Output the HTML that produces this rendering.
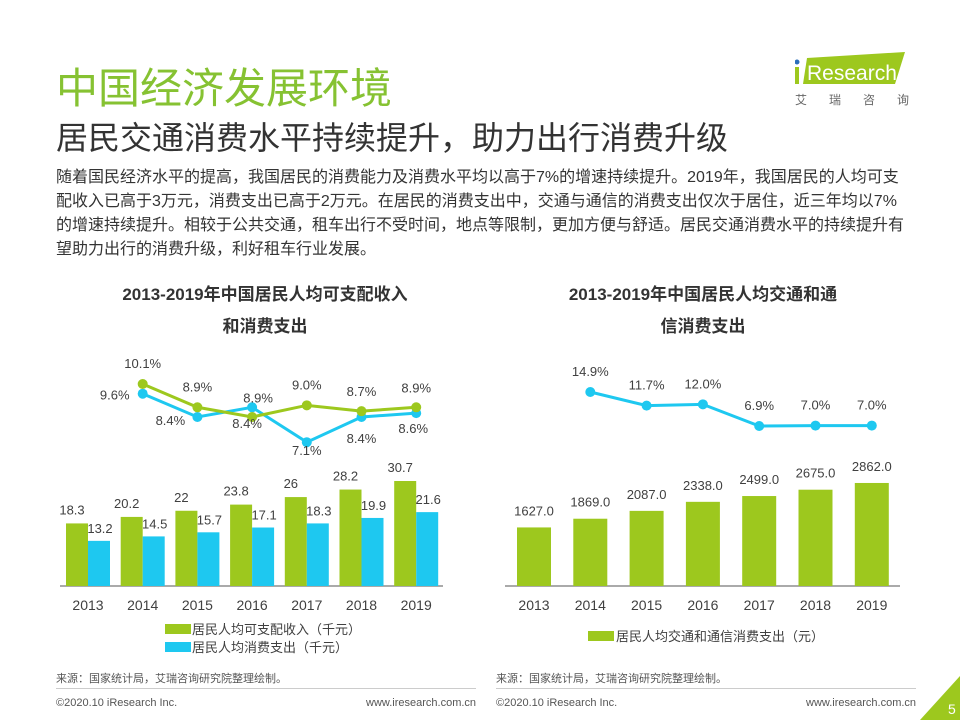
<!DOCTYPE html>
<html><head><meta charset="utf-8"><style>
body{margin:0;width:960px;height:720px;background:#fff;font-family:"Liberation Sans","Noto Sans CJK SC",sans-serif;position:relative;overflow:hidden;color:#404040}
.a{position:absolute;white-space:nowrap}
</style></head><body>
<div class="a" style="left:56px;top:55px;font-size:42px;color:#86c232">中国经济发展环境</div>
<div class="a" style="left:56px;top:113px;font-size:32px;color:#333">居民交通消费水平持续提升，助力出行消费升级</div>
<div class="a" style="left:795px;top:50px;width:112px;height:34px">
<svg width="120" height="60"><polygon points="12,8 110,2 100,34 8,34" fill="#9dc81e"/><circle cx="2" cy="12" r="2.5" fill="#2a6ebb"/><rect x="0" y="17" width="4" height="17" fill="#9dc81e"/>
<text x="12" y="30" font-size="21" fill="#fff" font-family="Liberation Sans">Research</text>
<text x="0" y="54" font-size="12" fill="#666" letter-spacing="22">艾瑞咨询</text></svg></div>
<div class="a" style="left:56px;top:166px;width:850px;white-space:normal;font-size:16px;line-height:24px;color:#333">随着国民经济水平的提高，我国居民的消费能力及消费水平均以高于7%的增速持续提升。2019年，我国居民的人均可支配收入已高于3万元，消费支出已高于2万元。在居民的消费支出中，交通与通信的消费支出仅次于居住，近三年均以7%的增速持续提升。相较于公共交通，租车出行不受时间，地点等限制，更加方便与舒适。居民交通消费水平的持续提升有望助力出行的消费升级，利好租车行业发展。</div>
<div class="a" style="left:60px;top:279px;width:410px;text-align:center;font-size:17px;font-weight:bold;line-height:32px;color:#333">2013-2019年中国居民人均可支配收入<br>和消费支出</div>
<div class="a" style="left:498px;top:279px;width:410px;text-align:center;font-size:17px;font-weight:bold;line-height:32px;color:#333">2013-2019年中国居民人均交通和通<br>信消费支出</div>
<svg id="c" class="a" style="left:0;top:0" width="960" height="720"></svg>
<div class="a" style="left:56px;top:670px;font-size:11px;color:#555">来源：国家统计局，艾瑞咨询研究院整理绘制。</div>
<div class="a" style="left:496px;top:670px;font-size:11px;color:#555">来源：国家统计局，艾瑞咨询研究院整理绘制。</div>
<div class="a" style="left:56px;top:688px;width:420px;border-top:1px solid #ccc"></div>
<div class="a" style="left:496px;top:688px;width:420px;border-top:1px solid #ccc"></div>
<div class="a" style="left:56px;top:697px;font-size:11px;color:#555">©2020.10 iResearch Inc.</div>
<div class="a" style="left:366px;top:697px;font-size:11px;color:#555">www.iresearch.com.cn</div>
<div class="a" style="left:496px;top:697px;font-size:11px;color:#555">©2020.10 iResearch Inc.</div>
<div class="a" style="left:806px;top:697px;font-size:11px;color:#555">www.iresearch.com.cn</div>
<svg class="a" style="left:920px;top:676px" width="40" height="44"><polygon points="40,0 40,44 0,44" fill="#9dc81e"/><text x="28" y="38" font-size="14" fill="#fff">5</text></svg>
<script>
const years=['2013','2014','2015','2016','2017','2018','2019'];
const income=[18.3,20.2,22,23.8,26,28.2,30.7];
const incomeLbl=['18.3','20.2','22','23.8','26','28.2','30.7'];
const spend=[13.2,14.5,15.7,17.1,18.3,19.9,21.6];
const incomeGrowth=[10.1,8.9,8.4,9.0,8.7,8.9];
const spendGrowth=[9.6,8.4,8.9,7.1,8.4,8.6];
const transport=[1627,1869,2087,2338,2499,2675,2862];
const transGrowth=[14.9,11.7,12.0,6.9,7.0,7.0];
const G='#9dc81e',B='#1ec8f0';
const svg=document.getElementById('c');const NS='http://www.w3.org/2000/svg';
function mk(t,a,p){const e=document.createElementNS(NS,t);for(const k in a)e.setAttribute(k,a[k]);(p||svg).appendChild(e);return e}
function tx(x,y,s,o){const e=mk('text',Object.assign({x:x,y:y,'font-size':13,fill:'#404040','text-anchor':'middle','font-family':'Liberation Sans, Noto Sans CJK SC, sans-serif'},o||{}));e.textContent=s;return e}
const base=586;
// left chart
const lx=i=>88+i*54.7, ly=v=>base-v*3.42, lg=v=>384-(v-10.1)*19.4;
mk('line',{x1:60,x2:443,y1:base,y2:base,stroke:'#555'});
years.forEach((y,i)=>{
 let r=mk('rect',{x:lx(i)-22,y:ly(income[i]),width:22,height:base-ly(income[i]),fill:G});
 
 r=mk('rect',{x:lx(i),y:ly(spend[i]),width:22,height:base-ly(spend[i]),fill:B});
 
 tx(lx(i)-16,ly(income[i])-9,incomeLbl[i]);
 tx(lx(i)+12,ly(spend[i])-8,spend[i].toFixed(1));
 tx(lx(i),base+24,y,{'font-size':14});
});
function line(vals,f,xf,col,nm){const p=mk('polyline',{points:vals.map((v,i)=>xf(i)+','+f(v)).join(' '),fill:'none',stroke:col,'stroke-width':3});
 
 vals.forEach((v,i)=>mk('circle',{cx:xf(i),cy:f(v),r:5,fill:col}));}
const lpx=i=>lx(i+1);
line(spendGrowth,lg,lpx,B,'line-spend-growth');
line(incomeGrowth,lg,lpx,G,'line-income-growth');
const gdx=[0,0,-5,0,0,0],gdy=[-16,-16,11,-16,-15,-15];
const bdx=[-28,-27,6,0,0,-3],bdy=[6,8,-5,13,26,20];
incomeGrowth.forEach((v,i)=>tx(lpx(i)+gdx[i],lg(v)+gdy[i],v.toFixed(1)+'%'));
spendGrowth.forEach((v,i)=>tx(lpx(i)+bdx[i],lg(v)+bdy[i],v.toFixed(1)+'%'));
mk('rect',{x:165,y:624,width:26,height:10,fill:G});tx(192,634,'居民人均可支配收入（千元）',{'text-anchor':'start'});
mk('rect',{x:165,y:642,width:26,height:10,fill:B});tx(192,652,'居民人均消费支出（千元）',{'text-anchor':'start'});
// right chart
const rx=i=>534+i*56.3, ry=v=>base-v*0.036, rg=v=>392-(v-14.9)*4.25;
mk('line',{x1:505,x2:900,y1:base,y2:base,stroke:'#555'});
years.forEach((y,i)=>{
 const r=mk('rect',{x:rx(i)-17,y:ry(transport[i]),width:34,height:base-ry(transport[i]),fill:G});
 
 tx(rx(i),ry(transport[i])-12,transport[i].toFixed(1));
 tx(rx(i),base+24,y,{'font-size':14});
});
const rpx=i=>rx(i+1);
line(transGrowth,rg,rpx,B,'line-transport-growth');
transGrowth.forEach((v,i)=>tx(rpx(i),rg(v)-16,v.toFixed(1)+'%'));
mk('rect',{x:588,y:631,width:26,height:10,fill:G});tx(616,641,'居民人均交通和通信消费支出（元）',{'text-anchor':'start'});
</script>
</body></html>
